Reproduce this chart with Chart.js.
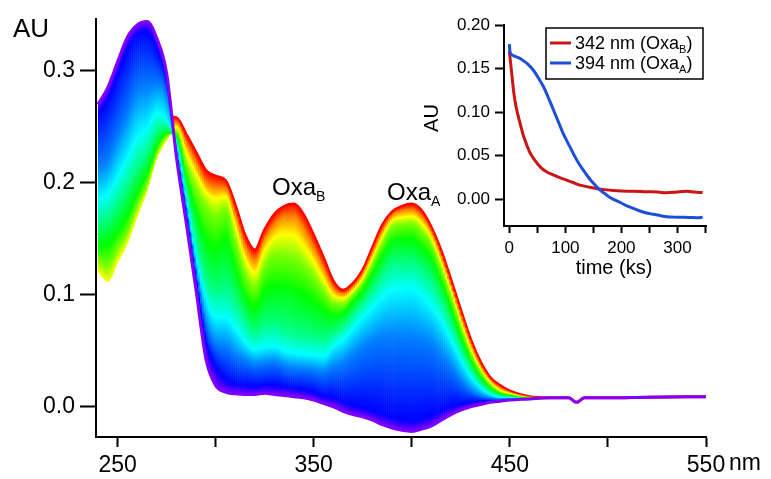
<!DOCTYPE html>
<html lang="en">
<head>
  <meta charset="UTF-8">
  <title>Oxa spectra</title>
  <script src="https://cdn.jsdelivr.net/npm/chart.js"></script>
  <style>
    body { margin: 0; background: #fff; }
    #wrap { position: relative; width: 771px; height: 479px; }
    #spectra { position: absolute; left: 0; top: 0; }
    #kinetics { position: absolute; left: 400px; top: 0; }
  </style>
</head>
<body>
  <div id="wrap">
    <canvas id="spectra" width="771" height="479"></canvas>
    <canvas id="kinetics" width="371" height="290"></canvas>
  </div>

  <script>
    // wavelength grid (nm)
    const wavelengths = [240,245,250,255,260,265,270,275,280,285,290,295,300,305,310,315,320,325,330,335,
      340,345,350,355,360,365,370,375,380,385,390,395,400,405,410,415,420,425,430,435,440,445,450,
      460,470,480,484,488,500,520,550];

    // spectra, first (red) to last (violet)
    const scan1 = [.155,.152,.165,.185,.205,.225,.245,.259,.258,.243,.227,.211,.206,.202,.180,.153,.140,.158,.172,.179,
      .181,.171,.153,.133,.112,.104,.110,.122,.142,.162,.174,.179,.181,.175,.160,.139,.113,.086,.060,.040,.026,.019,.014,
      .009,.008,.008,.004,.008,.008,.0085,.009];
    const scan2 = [.140,.135,.150,.170,.190,.210,.235,.250,.254,.236,.218,.201,.196,.195,.172,.144,.131,.150,.163,.170,
      .170,.159,.142,.124,.106,.101,.107,.119,.138,.157,.171,.175,.176,.170,.156,.134,.108,.081,.056,.037,.024,.017,.013,
      .009,.008,.008,.004,.008,.008,.0085,.009];
    const scan3 = [.121,.112,.129,.146,.170,.193,.222,.238,.250,.227,.208,.192,.186,.188,.162,.133,.120,.140,.151,.154,
      .153,.143,.130,.114,.100,.097,.104,.115,.133,.152,.166,.169,.170,.164,.151,.129,.103,.076,.052,.034,.022,.015,.012,
      .008,.008,.008,.004,.008,.008,.0085,.009];
    const scan4 = [.130,.125,.140,.155,.178,.198,.226,.241,.246,.218,.196,.180,.172,.177,.150,.120,.108,.126,.136,.136,
      .134,.127,.117,.104,.093,.092,.100,.111,.128,.146,.161,.163,.164,.157,.145,.123,.098,.071,.048,.031,.020,.013,.011,
      .008,.008,.008,.004,.008,.008,.0085,.009];
    const scan5 = [.143,.145,.156,.170,.190,.208,.232,.244,.242,.205,.175,.150,.142,.150,.125,.100,.089,.103,.108,.108,
      .105,.100,.094,.087,.082,.084,.094,.104,.119,.135,.148,.150,.150,.143,.133,.112,.088,.063,.042,.027,.017,.012,.010,
      .008,.008,.008,.004,.008,.008,.0085,.009];
    const scan6 = [.163,.168,.180,.195,.212,.225,.245,.249,.238,.195,.152,.116,.104,.107,.095,.078,.067,.074,.074,.070,
      .067,.065,.063,.062,.066,.072,.083,.093,.105,.118,.128,.129,.129,.123,.113,.096,.075,.053,.035,.022,.014,.010,.009,
      .007,.008,.008,.004,.008,.008,.0085,.009];
    const scan7 = [.185,.190,.205,.222,.240,.248,.262,.256,.234,.186,.135,.097,.080,.080,.070,.058,.051,.053,.054,.050,
      .048,.047,.046,.045,.054,.060,.070,.080,.089,.098,.104,.105,.106,.099,.090,.077,.060,.042,.027,.017,.011,.008,.008,
      .007,.008,.008,.004,.008,.008,.0085,.009];
    const scan8 = [.213,.220,.240,.260,.280,.285,.288,.278,.230,.178,.122,.076,.057,.054,.047,.042,.038,.039,.040,.037,
      .035,.034,.033,.031,.036,.040,.046,.053,.058,.062,.064,.063,.062,.060,.056,.047,.036,.024,.015,.010,.008,.007,.007,
      .007,.008,.008,.004,.008,.008,.0085,.009];
    const scan9 = [.262,.275,.298,.320,.333,.335,.320,.292,.227,.171,.113,.058,.036,.024,.020,.019,.018,.019,.019,.018,
      .016,.015,.013,.009,.008,.004,.001,-.001,-.004,-.007,-.010,-.012,-.013,-.011,-.008,-.004,.000,.002,.004,.005,.005,.005,.006,
      .007,.008,.008,.004,.008,.008,.0085,.009];
    const scan10 = [.270,.285,.308,.330,.341,.344,.329,.298,.223,.164,.104,.043,.019,.013,.0115,.011,.011,.012,.011,.010,
      .009,.008,.006,.003,.000,-.004,-.007,-.009,-.012,-.016,-.019,-.021,-.022,-.020,-.017,-.012,-.007,-.003,.000,.002,.004,.005,.006,
      .007,.008,.008,.004,.008,.008,.0085,.009];
    const scanHues = [0, 30, 60, 90, 120, 150, 180, 210, 240, 270];

    const xTicks = [250, 300, 350, 400, 450, 500, 550];
    const yTicks = [0, 0.1, 0.2, 0.3];

    // inset kinetics (time in ks)
    const time342 = [0,2,5,8,12,16,20,25,30,37,45,55,67,79,90,102,114,126,140,155,170,185,200,220,245,265,281,300,317,330,345];
    const au342 = [0.170,0.158,0.140,0.122,0.106,0.095,0.085,0.073,0.064,0.053,0.045,0.037,0.031,0.0276,0.0245,0.0218,
      0.019,0.016,0.014,0.012,0.0108,0.0098,0.0092,0.0090,0.0084,0.0080,0.0072,0.0082,0.0088,0.0080,0.0074];
    const time394 = [0,1,4,10,18,25,33,43,52,61,70,79,88,96,105,114,123,132,141,150,159,168,177,186,198,210,222,233,245,
      257,269,281,293,305,320,335,345];
    const au394 = [0.178,0.170,0.166,0.164,0.162,0.159,0.155,0.148,0.139,0.129,0.116,0.102,0.088,0.0755,0.064,0.0525,
      0.042,0.0333,0.025,0.018,0.012,0.0073,0.003,-0.0004,-0.004,-0.008,-0.011,-0.0138,-0.016,-0.0176,-0.019,-0.0203,
      -0.0208,-0.021,-0.0212,-0.0215,-0.021];
    const insetXTicks = [0, 50, 100, 150, 200, 250, 300, 350];
    const insetYTicks = [0, 0.05, 0.1, 0.15, 0.2];

    const FONT = "'Liberation Sans', Arial, sans-serif";
    Chart.defaults.font.family = FONT;
    Chart.defaults.color = '#000';

    const hsl = h => 'hsl(' + h + ',100%,50%)';

    function subText(ctx, x, y, main, sub, tail, size, subSize, drop) {
      ctx.font = size + 'px ' + FONT;
      ctx.fillText(main, x, y);
      x += ctx.measureText(main).width;
      ctx.font = subSize + 'px ' + FONT;
      ctx.fillText(sub, x, y + drop);
      x += ctx.measureText(sub).width;
      if (tail) {
        ctx.font = size + 'px ' + FONT;
        ctx.fillText(tail, x, y);
      }
    }

    // point on the bezier segment p0 -> p1 that chart.js draws
    function bez(p0, p1, t) {
      const u = 1 - t;
      const a = u * u * u, b = 3 * u * u * t, c = 3 * u * t * t, d = t * t * t;
      return {
        x: a * p0.x + b * p0.cp2x + c * p1.cp1x + d * p1.x,
        y: a * p0.y + b * p0.cp2y + c * p1.cp1y + d * p1.y
      };
    }

    // paints the band between scan k-1 and scan k with a colour ramp, just before scan k is drawn
    const bandFill = {
      id: 'bandFill',
      beforeDatasetDraw(c, args) {
        const k = args.index;
        if (k === 0) return;
        const area = c.chartArea;
        const ma = c.getDatasetMeta(k - 1), mb = c.getDatasetMeta(k);
        ma.dataset.updateControlPoints(area, 'x');
        mb.dataset.updateControlPoints(area, 'x');
        const pa = ma.data, pb = mb.data;
        const c0 = hsl(scanHues[k - 1]), c1 = hsl(scanHues[k]);
        const ctx = c.ctx;
        ctx.save();
        ctx.beginPath();
        ctx.rect(area.left, area.top, area.right - area.left, area.bottom - area.top);
        ctx.clip();
        for (let j = 0; j < pa.length - 1; j++) {
          const n = Math.max(1, Math.ceil((pa[j + 1].x - pa[j].x) / 2));
          for (let i = 0; i < n; i++) {
            const t0 = i / n, t1 = (i + 1) / n, tm = (t0 + t1) / 2;
            const A0 = bez(pa[j], pa[j + 1], t0), A1 = bez(pa[j], pa[j + 1], t1), Am = bez(pa[j], pa[j + 1], tm);
            const B0 = bez(pb[j], pb[j + 1], t0), B1 = bez(pb[j], pb[j + 1], t1), Bm = bez(pb[j], pb[j + 1], tm);
            if (Math.abs(Am.y - Bm.y) < 0.3 && Math.abs(A0.y - B0.y) < 0.3) continue;
            if (Math.abs(Am.y - Bm.y) < 0.3) {
              ctx.fillStyle = c1;
            } else {
              const g = ctx.createLinearGradient(Am.x, Am.y, Am.x, Bm.y);
              g.addColorStop(0, c0);
              g.addColorStop(1, c1);
              ctx.fillStyle = g;
            }
            ctx.beginPath();
            ctx.moveTo(A0.x, A0.y);
            ctx.lineTo(A1.x, A1.y);
            ctx.lineTo(A1.x + 0.6, A1.y);
            ctx.lineTo(B1.x + 0.6, B1.y);
            ctx.lineTo(B1.x, B1.y);
            ctx.lineTo(B0.x, B0.y);
            ctx.closePath();
            ctx.fill();
          }
        }
        ctx.restore();
      }
    };

    const mainText = {
      id: 'mainText',
      afterDraw(c) {
        const ctx = c.ctx;
        ctx.save();
        ctx.fillStyle = '#000';
        ctx.textBaseline = 'alphabetic';
        ctx.font = '26px ' + FONT;
        ctx.fillText('AU', 13, 37);
        ctx.font = '23px ' + FONT;
        ctx.textBaseline = 'top';
        ctx.fillText('nm', 729, 452);
        ctx.textBaseline = 'alphabetic';
        subText(ctx, 272, 195, 'Oxa', 'B', '', 24, 14, 6);
        subText(ctx, 387, 200, 'Oxa', 'A', '', 24, 14, 6);
        ctx.restore();
      }
    };

    const scans = [scan1, scan2, scan3, scan4, scan5, scan6, scan7, scan8, scan9, scan10];
    const datasets = scans.map((s, i) => ({
      data: s.map((v, j) => ({ x: wavelengths[j], y: v })),
      borderColor: hsl(scanHues[i]),
      borderWidth: (i === 0 || i === scans.length - 1) ? 3 : 1,
      fill: false,
      order: scans.length - 1 - i,
      pointRadius: 0,
      cubicInterpolationMode: 'monotone'
    }));

    new Chart(document.getElementById('spectra'), {
      type: 'line',
      data: { datasets },
      options: {
        responsive: false,
        animation: false,
        layout: { padding: { left: 0, top: 18, right: 65, bottom: 0 } },
        plugins: { legend: { display: false }, tooltip: { enabled: false } },
        scales: {
          x: {
            type: 'linear', min: 239, max: 550,
            afterBuildTicks: s => { s.ticks = xTicks.map(v => ({ value: v })); },
            afterFit: s => { s.height = 42; },
            ticks: { callback: v => (v % 100 === 50 ? String(v) : ''), font: { size: 23 }, padding: 5, maxRotation: 0, autoSkip: false },
            grid: { drawOnChartArea: false, tickLength: 10, tickWidth: 2, tickColor: '#000' },
            border: { color: '#000', width: 2 }
          },
          y: {
            min: -0.027, max: 0.3464,
            afterBuildTicks: s => { s.ticks = yTicks.map(v => ({ value: v })); },
            afterFit: s => { s.width = 96; },
            ticks: { callback: v => v.toFixed(1), font: { size: 23 }, padding: 5 },
            grid: { drawOnChartArea: false, tickLength: 16, tickWidth: 2, tickColor: '#000' },
            border: { color: '#000', width: 2 }
          }
        }
      },
      plugins: [bandFill, mainText]
    });

    const insetText = {
      id: 'insetText',
      afterDraw(c) {
        const ctx = c.ctx;
        ctx.save();
        ctx.fillStyle = '#000';
        ctx.font = '20px ' + FONT;
        ctx.textAlign = 'center';
        ctx.textBaseline = 'middle';
        ctx.fillText('time (ks)', 214, 268);
        ctx.translate(32, 118);
        ctx.rotate(-Math.PI / 2);
        ctx.fillText('AU', 0, 0);
        ctx.restore();

        // legend box
        ctx.save();
        ctx.fillStyle = '#fff';
        ctx.fillRect(146, 28, 157, 51);
        ctx.strokeStyle = '#000';
        ctx.lineWidth = 1.5;
        ctx.strokeRect(146, 28, 157, 51);
        const rows = [['342 nm (Oxa', 'B', '#cc1414', 43], ['394 nm (Oxa', 'A', '#1c4fd8', 63]];
        rows.forEach(r => {
          ctx.strokeStyle = r[2];
          ctx.lineWidth = 3;
          ctx.beginPath();
          ctx.moveTo(150, r[3]);
          ctx.lineTo(171, r[3]);
          ctx.stroke();
          ctx.fillStyle = '#000';
          ctx.textBaseline = 'alphabetic';
          subText(ctx, 175, r[3] + 6, r[0], r[1], ')', 18, 11, 4);
        });
        ctx.restore();
      }
    };

    new Chart(document.getElementById('kinetics'), {
      type: 'line',
      data: {
        datasets: [
          {
            data: time342.map((t, i) => ({ x: t, y: au342[i] })),
            borderColor: '#cc1414', borderWidth: 3, pointRadius: 0, order: 1,
            cubicInterpolationMode: 'monotone'
          },
          {
            data: time394.map((t, i) => ({ x: t, y: au394[i] })),
            borderColor: '#1c4fd8', borderWidth: 3, pointRadius: 0, order: 0,
            cubicInterpolationMode: 'monotone'
          }
        ]
      },
      options: {
        responsive: false,
        animation: false,
        layout: { padding: { left: 0, top: 25, right: 65, bottom: 0 } },
        plugins: { legend: { display: false }, tooltip: { enabled: false } },
        scales: {
          x: {
            type: 'linear', min: -9.5, max: 351,
            afterBuildTicks: s => { s.ticks = insetXTicks.map(v => ({ value: v })); },
            afterFit: s => { s.height = 64; },
            ticks: { callback: v => (v % 100 === 0 ? String(v) : ''), font: { size: 17 }, padding: 5, maxRotation: 0, autoSkip: false },
            grid: { drawOnChartArea: false, tickLength: 7, tickWidth: 2, tickColor: '#000' },
            border: { color: '#000', width: 2 }
          },
          y: {
            min: -0.031, max: 0.2,
            afterBuildTicks: s => { s.ticks = insetYTicks.map(v => ({ value: v })); },
            afterFit: s => { s.width = 104; },
            ticks: { callback: v => v.toFixed(2), font: { size: 17 }, padding: 5 },
            grid: { drawOnChartArea: false, tickLength: 9, tickWidth: 2, tickColor: '#000' },
            border: { color: '#000', width: 2 }
          }
        }
      },
      plugins: [insetText]
    });
  </script>
</body>
</html>
